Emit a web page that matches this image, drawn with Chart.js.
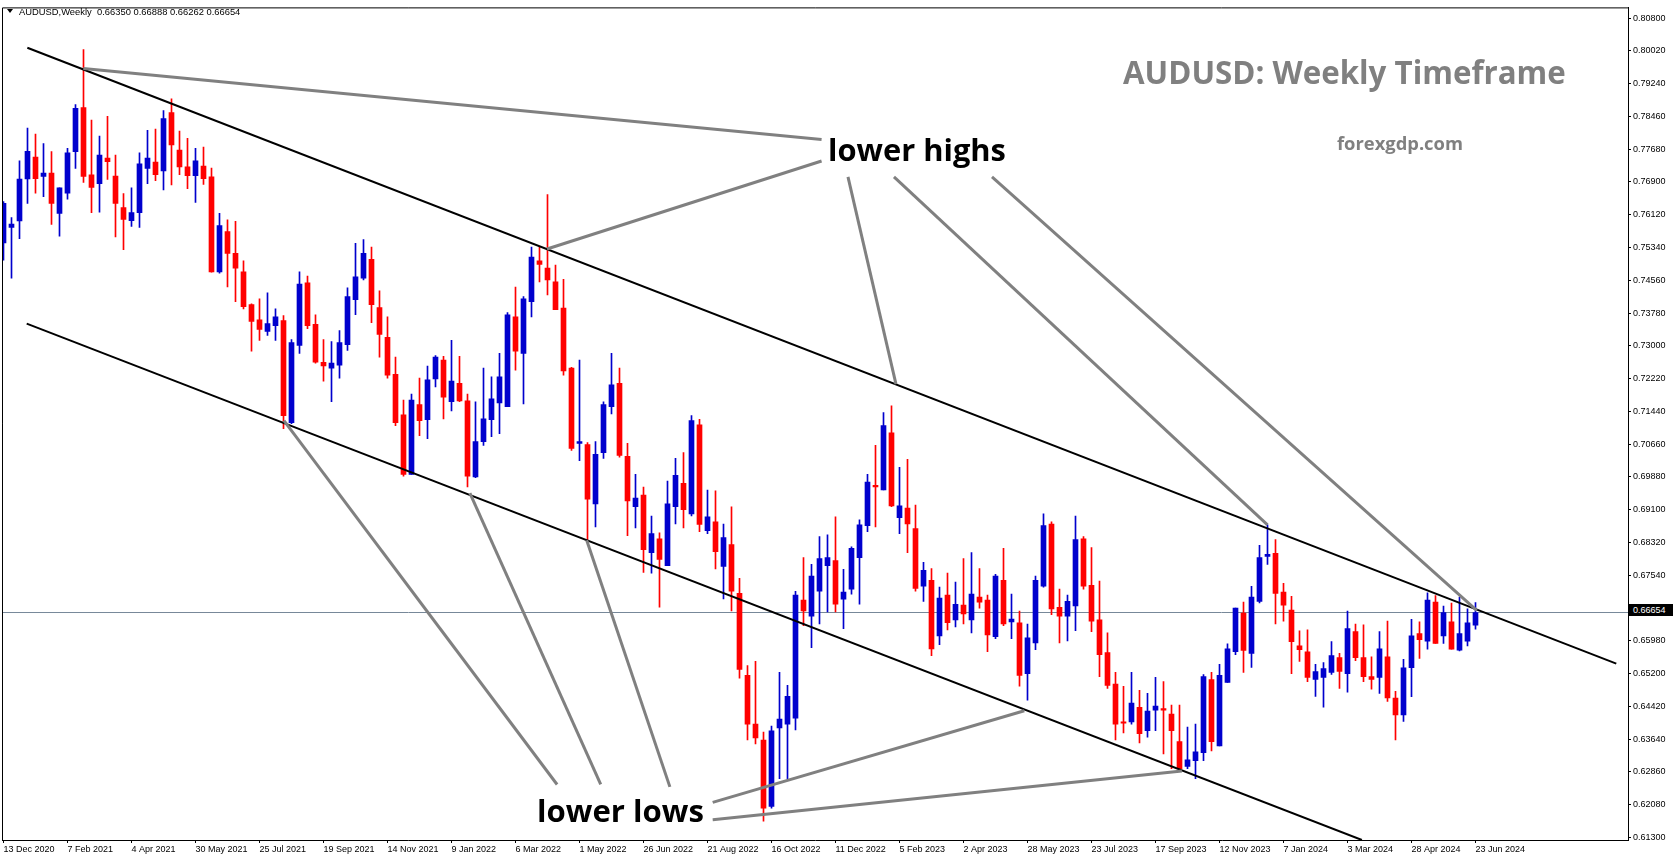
<!DOCTYPE html>
<html>
<head>
<meta charset="utf-8">
<script src="https://cdn.jsdelivr.net/npm/chart.js@4.4.1/dist/chart.umd.min.js"></script>
<style>
  html, body { margin:0; padding:0; background:#fff; }
  #wrap { position:relative; width:1673px; height:861px; overflow:hidden; }
  canvas { position:absolute; left:0; top:0; }
  .lbl { position:absolute; white-space:pre; line-height:1; }
  .fit { font-family:"Open Sans", "Noto Sans", sans-serif; font-weight:700; }
  #hdr { left:19px; top:6px; font:9.4px "Liberation Sans", Arial, sans-serif; color:#000; }
  #tri { position:absolute; left:7px; top:9px; width:0; height:0; border-left:3px solid transparent; border-right:3px solid transparent; border-top:4px solid #000; }
  #plab { position:absolute; left:1629px; top:604px; width:44px; height:12px; background:#000; color:#fff; font:9px "Liberation Sans", Arial, sans-serif; line-height:12px; padding-left:4px; box-sizing:border-box; }
</style>
</head>
<body>
<div id="wrap">
  <canvas id="c" width="1673" height="861"></canvas>
  <div id="tri"></div>
  <div id="hdr" class="lbl">AUDUSD,Weekly  0.66350 0.66888 0.66262 0.66654</div>
  <div id="plab">0.66654</div>
  <div class="lbl fit" data-x="1123" data-cy="72.6" data-w="443" style="color:#808080">AUDUSD: Weekly Timeframe</div>
  <div class="lbl fit" data-x="1337" data-cy="143" data-w="126" style="color:#808080">forexgdp.com</div>
  <div class="lbl fit" data-x="828" data-cy="149" data-w="178" style="color:#000">lower highs</div>
  <div class="lbl fit" data-x="537" data-cy="811" data-w="167" style="color:#000">lower lows</div>
</div>
<script>
// ---- data (weekly AUDUSD candles, index 0 = week of 13 Dec 2020) ----
const opens = [
0.7545,0.7582,0.7597,0.7697,0.7749,0.7703,0.7711,0.7615,0.7663,0.7762,
0.7867,0.7707,0.7686,0.7747,0.7704,0.7629,0.7598,0.7617,0.7722,0.7737,
0.7716,0.7855,0.7766,0.7726,0.7705,0.7728,0.7702,0.7476,0.7572,0.7520,
0.7476,0.7398,0.7362,0.7334,0.7348,0.7360,0.7117,0.7301,0.7450,0.7351,
0.7261,0.7247,0.7254,0.7303,0.7410,0.7461,0.7506,0.7391,0.7320,0.7232,
0.7136,0.6994,0.7160,0.7124,0.7221,0.7266,0.7167,0.7211,0.7169,0.6988,
0.7072,0.7124,0.7164,0.7155,0.7369,0.7282,0.7405,0.7502,0.7485,0.7452,
0.7390,0.7247,0.7068,0.7065,0.6924,0.7046,0.7155,0.7211,0.7037,0.6917,
0.6945,0.6808,0.6841,0.6777,0.6917,0.6973,0.6900,0.7112,0.6860,0.6881,
0.6775,0.6827,0.6711,0.6516,0.6400,0.6362,0.6204,0.6391,0.6400,0.6414,
0.6695,0.6657,0.6716,0.6777,0.6789,0.6697,0.6721,0.6796,0.6872,0.6968,
0.6957,0.7093,0.6891,0.6914,0.6865,0.6728,0.6742,0.6610,0.6707,0.6648,
0.6683,0.6648,0.6702,0.6695,0.6608,0.6742,0.6643,0.6641,0.6520,0.6593,
0.6728,0.6876,0.6678,0.6657,0.6681,0.6841,0.6730,0.6648,0.6570,0.6495,
0.6405,0.6405,0.6440,0.6384,0.6433,0.6437,0.6424,0.6358,0.6299,0.6313,
0.6332,0.6506,0.6348,0.6499,0.6572,0.6664,0.6568,0.6692,0.6799,0.6806,
0.6714,0.6671,0.6586,0.6572,0.6506,0.6511,0.6523,0.6558,0.6520,0.6620,
0.6558,0.6513,0.6511,0.6560,0.6462,0.6422,0.6534,0.6615,0.6597,0.6690,
0.6610,0.6643,0.6576,0.6597,0.6635];
const highs = [
0.7643,0.7605,0.7740,0.7818,0.7804,0.7781,0.7762,0.7676,0.7770,0.7874,
0.8005,0.7837,0.7799,0.7846,0.7754,0.7662,0.7676,0.7759,0.7813,0.7816,
0.7860,0.7888,0.7811,0.7794,0.7770,0.7773,0.7723,0.7615,0.7600,0.7596,
0.7502,0.7400,0.7412,0.7426,0.7388,0.7372,0.7315,0.7476,0.7466,0.7374,
0.7315,0.7310,0.7336,0.7438,0.7544,0.7553,0.7535,0.7431,0.7369,0.7273,
0.7171,0.7185,0.7223,0.7252,0.7277,0.7275,0.7313,0.7275,0.7185,0.7167,
0.7247,0.7226,0.7282,0.7379,0.7440,0.7417,0.7535,0.7535,0.7660,0.7492,
0.7458,0.7249,0.7266,0.7070,0.7072,0.7167,0.7282,0.7247,0.7068,0.6994,
0.6964,0.6895,0.6855,0.6978,0.7032,0.7046,0.7134,0.7125,0.6957,0.6955,
0.6876,0.6917,0.6747,0.6539,0.6549,0.6381,0.6395,0.6523,0.6492,0.6716,
0.6796,0.6780,0.6846,0.6850,0.6893,0.6768,0.6822,0.6886,0.6994,0.7063,
0.7141,0.7157,0.7011,0.7030,0.6921,0.6785,0.6770,0.6726,0.6759,0.6738,
0.6794,0.6808,0.6770,0.6707,0.6756,0.6818,0.6709,0.6669,0.6638,0.6752,
0.6900,0.6881,0.6721,0.6707,0.6895,0.6846,0.6820,0.6740,0.6617,0.6523,
0.6490,0.6523,0.6480,0.6473,0.6511,0.6501,0.6445,0.6445,0.6393,0.6400,
0.6518,0.6523,0.6542,0.6591,0.6676,0.6690,0.6728,0.6825,0.6874,0.6839,
0.6735,0.6704,0.6622,0.6624,0.6542,0.6546,0.6596,0.6568,0.6669,0.6638,
0.6636,0.6560,0.6620,0.6645,0.6478,0.6554,0.6649,0.6643,0.6712,0.6706,
0.6681,0.6688,0.6702,0.6674,0.6689];
const lows = [
0.7504,0.7461,0.7555,0.7639,0.7663,0.7655,0.7589,0.7561,0.7649,0.7722,
0.7689,0.7617,0.7618,0.7696,0.7559,0.7529,0.7584,0.7582,0.7686,0.7693,
0.7671,0.7683,0.7707,0.7674,0.7641,0.7684,0.7475,0.7473,0.7440,0.7405,
0.7388,0.7287,0.7313,0.7325,0.7313,0.7103,0.7115,0.7282,0.7341,0.7259,
0.7216,0.7167,0.7223,0.7289,0.7374,0.7457,0.7355,0.7273,0.7223,0.7110,
0.6990,0.6994,0.7086,0.7079,0.7202,0.7126,0.7145,0.7167,0.6964,0.6986,
0.7063,0.7084,0.7091,0.7155,0.7242,0.7162,0.7369,0.7452,0.7421,0.7386,
0.7230,0.7051,0.7027,0.6836,0.6869,0.7032,0.7138,0.7035,0.6848,0.6867,
0.6761,0.6759,0.6678,0.6777,0.6876,0.6867,0.6895,0.6858,0.6853,0.6769,
0.6698,0.6669,0.6509,0.6362,0.6353,0.6169,0.6200,0.6270,0.6270,0.6386,
0.6634,0.6582,0.6638,0.6667,0.6667,0.6627,0.6709,0.6685,0.6858,0.6869,
0.6957,0.6917,0.6853,0.6808,0.6716,0.6692,0.6563,0.6589,0.6624,0.6631,
0.6638,0.6617,0.6676,0.6572,0.6603,0.6634,0.6603,0.6490,0.6457,0.6577,
0.6726,0.6660,0.6593,0.6598,0.6622,0.6721,0.6620,0.6513,0.6485,0.6362,
0.6379,0.6400,0.6355,0.6369,0.6384,0.6329,0.6294,0.6289,0.6294,0.6270,
0.6313,0.6336,0.6348,0.6499,0.6565,0.6523,0.6535,0.6688,0.6780,0.6638,
0.6645,0.6520,0.6549,0.6501,0.6466,0.6440,0.6518,0.6485,0.6476,0.6551,
0.6501,0.6483,0.6473,0.6454,0.6362,0.6406,0.6465,0.6556,0.6578,0.6592,
0.6592,0.6578,0.6574,0.6586,0.6626];
const closes = [
0.7639,0.7590,0.7697,0.7763,0.7698,0.7711,0.7639,0.7676,0.7759,0.7865,
0.7703,0.7677,0.7754,0.7738,0.7639,0.7601,0.7617,0.7733,0.7747,0.7707,
0.7841,0.7778,0.7726,0.7705,0.7740,0.7698,0.7476,0.7586,0.7520,0.7485,
0.7393,0.7358,0.7339,0.7353,0.7369,0.7134,0.7308,0.7447,0.7348,0.7261,
0.7252,0.7259,0.7308,0.7417,0.7464,0.7520,0.7398,0.7327,0.7230,0.7117,
0.6994,0.7171,0.7122,0.7219,0.7273,0.7178,0.7216,0.7169,0.6990,0.7072,
0.7126,0.7174,0.7226,0.7374,0.7287,0.7412,0.7511,0.7494,0.7457,0.7386,
0.7240,0.7056,0.7072,0.6935,0.7042,0.7160,0.7207,0.7039,0.6931,0.6938,
0.6815,0.6853,0.6792,0.6924,0.6992,0.6910,0.7122,0.6875,0.6893,0.6810,
0.6844,0.6716,0.6530,0.6400,0.6367,0.6200,0.6384,0.6412,0.6466,0.6707,
0.6669,0.6752,0.6794,0.6796,0.6685,0.6714,0.6818,0.6874,0.6976,0.6964,
0.7110,0.6919,0.6919,0.6876,0.6723,0.6766,0.6579,0.6700,0.6641,0.6685,
0.6662,0.6709,0.6690,0.6612,0.6752,0.6638,0.6650,0.6516,0.6605,0.6742,
0.6872,0.6674,0.6657,0.6692,0.6839,0.6728,0.6645,0.6565,0.6492,0.6400,
0.6402,0.6450,0.6377,0.6431,0.6443,0.6433,0.6384,0.6294,0.6315,0.6334,
0.6513,0.6358,0.6516,0.6579,0.6676,0.6575,0.6702,0.6796,0.6804,0.6711,
0.6683,0.6596,0.6577,0.6511,0.6525,0.6532,0.6563,0.6525,0.6627,0.6558,
0.6513,0.6506,0.6579,0.6462,0.6422,0.6534,0.6610,0.6601,0.6695,0.6592,
0.6665,0.6578,0.6615,0.6641,0.6665];

// x-axis date labels, one every 8 weeks starting at week 0
const dateLabels = ["13 Dec 2020","7 Feb 2021","4 Apr 2021","30 May 2021","25 Jul 2021","19 Sep 2021",
  "14 Nov 2021","9 Jan 2022","6 Mar 2022","1 May 2022","26 Jun 2022","21 Aug 2022","16 Oct 2022",
  "11 Dec 2022","5 Feb 2023","2 Apr 2023","28 May 2023","23 Jul 2023","17 Sep 2023","12 Nov 2023",
  "7 Jan 2024","3 Mar 2024","28 Apr 2024","23 Jun 2024"];
const dateStep = 8;
// price-scale tick labels
const priceTicks = [0.61300,0.62080,0.62860,0.63640,0.64420,0.65200,0.65980,0.66760,0.67540,0.68320,
  0.69100,0.69880,0.70660,0.71440,0.72220,0.73000,0.73780,0.74560,0.75340,0.76120,0.76900,0.77680,
  0.78460,0.79240,0.80020,0.80800];
const bidPrice = 0.66654;

// trend lines [weekIndex, price]
const channelUpper = [[2.98,0.80093],[201.6,0.65439]];
const channelLower = [[2.9,0.73529],[169.8,0.61241]];
const lowerHighsLines = [
  [[9.98,0.79598],[102.26,0.77907]],
  [[67.94,0.75305],[102.26,0.77397]],
  [[105.56,0.77020],[111.56,0.72090]],
  [[111.31,0.77020],[158.0,0.68741]],
  [[123.56,0.77020],[184.15,0.66706]]
];
const lowerLowsLines = [
  [[35.06,0.71218],[69.2,0.62562]],
  [[58.3,0.69496],[74.65,0.62562]],
  [[72.9,0.68376],[83.3,0.62505]],
  [[88.65,0.62137],[127.6,0.64316]],
  [[88.65,0.61724],[147.3,0.62882]]
];

// ---- chart ----
const BLUE = '#0000CD', RED = '#FF0000';
const isUp = i => closes[i] >= opens[i];
const bodies = opens.map((o,i)=>({x:i, y:[o, closes[i]]}));
const wicks = lows.map((l,i)=>({x:i, y:[l, highs[i]]}));
const toPts = seg => seg.map(p=>({x:p[0], y:p[1]}));

const datasets = [];
datasets.push({type:'line', data:[{x:-0.1875,y:bidPrice},{x:203.0625,y:bidPrice}], borderColor:'#778899', borderWidth:1, pointRadius:0, order:10});
datasets.push({type:'bar', data:wicks, barThickness:1, grouped:false, borderWidth:0,
  backgroundColor: c => isUp(c.dataIndex)?BLUE:RED, order:9});
datasets.push({type:'bar', data:bodies, barThickness:5, grouped:false, borderWidth:0, minBarLength:1,
  backgroundColor: c => isUp(c.dataIndex)?BLUE:RED, order:8});
[channelUpper, channelLower].forEach(s=>datasets.push({type:'line', data:toPts(s), borderColor:'#000', borderWidth:2, pointRadius:0, order:2}));
lowerHighsLines.concat(lowerLowsLines).forEach(s=>datasets.push({type:'line', data:toPts(s), borderColor:'#808080', borderWidth:3, pointRadius:0, order:1}));

const framePlugin = {
  id:'frame',
  afterDraw(ch){
    const {ctx, chartArea:a} = ch;
    ctx.save();
    ctx.strokeStyle = '#000'; ctx.lineWidth = 1;
    ctx.beginPath();
    ctx.moveTo(a.left+0.5, a.bottom); ctx.lineTo(a.left+0.5, a.top+0.5); ctx.lineTo(a.right, a.top+0.5);
    ctx.stroke();
    ctx.restore();
  }
};

new Chart(document.getElementById('c'), {
  type:'bar',
  data:{datasets},
  plugins:[framePlugin],
  options:{
    responsive:false, animation:false, devicePixelRatio:1,
    parsing:true,
    layout:{padding:{left:2, top:0, right:0, bottom:0}},
    plugins:{legend:{display:false}, tooltip:{enabled:false}},
    scales:{
      x:{
        type:'linear', min:-0.1875, max:203.0625, offset:false,
        afterFit: s => { s.height = 21; s.paddingLeft = 0; s.paddingRight = 0; },
        afterBuildTicks: s => { s.ticks = dateLabels.map((_,k)=>({value:k*dateStep})); },
        grid:{drawOnChartArea:false, drawTicks:true, tickLength:3, color:'#000', offset:false},
        border:{display:true, color:'#000', width:1},
        ticks:{autoSkip:false, maxRotation:0, minRotation:0, align:'start', padding:1, color:'#000',
          font:{family:'"Liberation Sans", Arial, sans-serif', size:9},
          callback: v => dateLabels[Math.round(v/dateStep)] || ''}
      },
      y:{
        type:'linear', position:'right', min:0.61241, max:0.81053,
        afterFit: s => { s.width = 45; },
        afterBuildTicks: s => { s.ticks = priceTicks.map(v=>({value:v})); },
        grid:{drawOnChartArea:false, drawTicks:true, tickLength:3, color:'#000'},
        border:{display:true, color:'#000', width:1},
        ticks:{autoSkip:false, padding:2, color:'#000',
          font:{family:'"Liberation Sans", Arial, sans-serif', size:9},
          callback: v => Number(v).toFixed(5)}
      }
    }
  }
});

// fit annotation texts to their measured widths
document.querySelectorAll('.fit').forEach(el=>{
  el.style.fontSize = '100px';
  const w = el.getBoundingClientRect().width;
  const fs = 100*(+el.dataset.w)/w;
  el.style.fontSize = fs+'px';
  el.style.left = el.dataset.x+'px';
  el.style.top = (+el.dataset.cy - el.getBoundingClientRect().height/2)+'px';
});
</script>
</body>
</html>
